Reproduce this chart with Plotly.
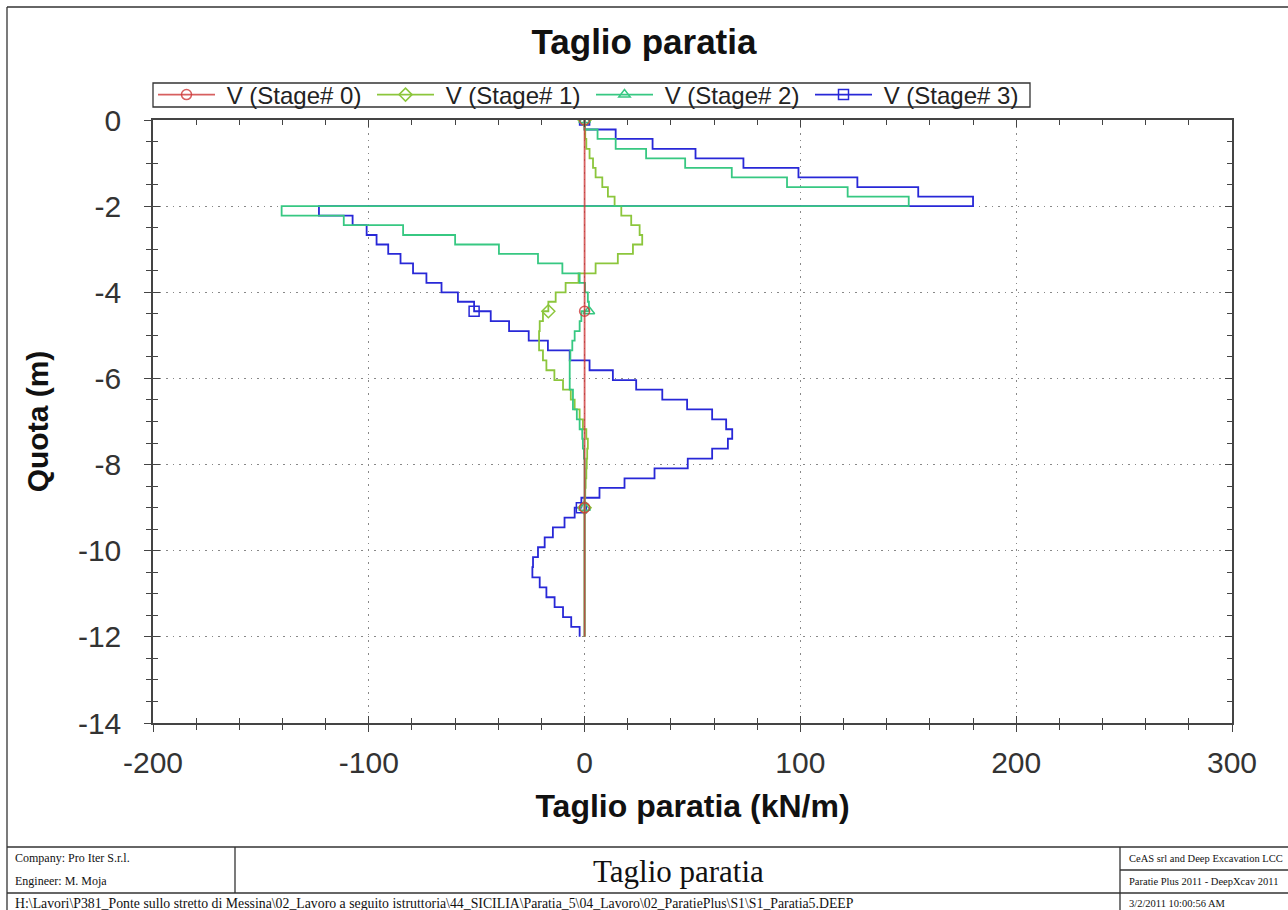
import plotly.graph_objects as go

# ---------------- data ----------------
depth = [0.0, -0.22, -0.44, -0.67, -0.89, -1.11, -1.33, -1.56, -1.78, -2.0,
         -2.22, -2.44, -2.67, -2.89, -3.11, -3.33, -3.56, -3.78, -4.0, -4.22, -4.44,
         -4.67, -4.9, -5.12, -5.35, -5.58, -5.81, -6.04, -6.26, -6.49, -6.72,
         -6.95, -7.18, -7.4, -7.63, -7.86, -8.09, -8.32, -8.54, -8.77, -9.0,
         -9.23, -9.46, -9.69, -9.92, -10.15, -10.38, -10.62, -10.85, -11.08,
         -11.31, -11.54, -11.77, -12.0]

v_stage0 = [0, 0, 0, 0, 0, 0, 0, 0, 0, 0,
            0, 0, 0, 0, 0, 0, 0, 0, 0, 0, 0,
            0, 0, 0, 0, 0, 0, 0, 0, 0, 0,
            0, 0, 0, 0, 0, 0, 0, 0, 0, 0,
            0, 0, 0, 0, 0, 0, 0, 0, 0, 0, 0, 0, 0]

v_stage1 = [0, 0, 0.3, 0.8, 2.3, 3.9, 5.1, 8.2, 10.8, 13.9,
            17.0, 21.6, 25.5, 26.7, 22.4, 15.4, 5.1, -2.8, -8.8, -13.4, -16.8,
            -19.3, -20.8, -21.1, -21.1, -19.3, -17.7, -14.0, -10.0, -6.4, -4.6,
            -2.3, -0.8, 0.8, 1.5, 1.2, 1.0, 0.8, 0.5, 0.3, 0.0,
            0, 0, 0, 0, 0, 0, 0, 0, 0, 0, 0, 0, 0]

v_stage2 = [0, 0, 6.0, 14.4, 28.5, 46.6, 68.2, 93.8, 121.9, 150.2,
            -140.4, -111.6, -84.1, -60.0, -39.7, -21.6, -10.3, -2.3, 0.2, 1.5, 2.0,
            -1.5, -2.3, -4.6, -5.7, -6.6, -6.9, -6.9, -6.9, -5.4, -5.4,
            -3.6, -2.3, -1.1, -0.8, -0.3, 0, 0, 0, 0, 0,
            0, 0, 0, 0, 0, 0, 0, 0, 0, 0, 0, 0, 0]

v_stage3 = [0, 0, 14.4, 31.5, 51.4, 73.6, 99.1, 126.4, 154.6, 180.0,
            -123.1, -107.5, -101.0, -96.4, -91.0, -85.3, -79.5, -73.3, -66.3, -58.7, -51.2,
            -43.5, -35.0, -25.9, -17.0, -6.9, 2.3, 13.1, 23.9, 36.0, 47.5,
            59.1, 65.6, 68.4, 66.4, 59.1, 47.8, 32.4, 18.5, 6.9, -1.5,
            -4.6, -9.3, -14.7, -18.5, -21.6, -23.9, -24.2, -20.8, -17.7, -13.9,
            -10.0, -6.2, -2.3]

series_names = ["V (Stage# 0)", "V (Stage# 1)", "V (Stage# 2)", "V (Stage# 3)"]
series_values = [v_stage0, v_stage1, v_stage2, v_stage3]
marker_index = [0, 20, 40]

x_ticks = [-200, -100, 0, 100, 200, 300]
x_ticktext = ["-200", "-100", "0", "100", "200", "300"]
y_ticks = [0, -2, -4, -6, -8, -10, -12, -14]
y_ticktext = ["0", "-2", "-4", "-6", "-8", "-10", "-12", "-14"]

# ---------------- styles ----------------
colors = ["rgba(205,55,55,0.8)", "rgb(140,198,60)", "rgb(55,200,130)", "rgb(40,40,215)"]
symbols = ["circle-open", "diamond-open", "triangle-up-open", "square-open"]
draw_order = [3, 1, 2, 0]

W, H = 1288, 910
L, R, T, B = 153, 1232, 120, 723   # plot area in pixels


def px(x):
    return (x - L) / (R - L)


def py(y):
    return (B - y) / (B - T)


fig = go.Figure()

for i in draw_order:
    vals = series_values[i]
    fig.add_trace(go.Scatter(
        x=vals, y=depth, mode="lines", line=dict(color=colors[i], width=1.8, shape="hv"),
        showlegend=False, hoverinfo="skip"))
    fig.add_trace(go.Scatter(
        x=[vals[k] for k in marker_index], y=[depth[k] for k in marker_index],
        mode="markers", showlegend=False, hoverinfo="skip",
        marker=dict(symbol=symbols[i], size=10, color=colors[i], line=dict(color=colors[i], width=1.5))))

for i in range(4):
    fig.add_trace(go.Scatter(
        x=[None], y=[None], mode="lines+markers", name="\u00a0" + series_names[i],
        line=dict(color=colors[i], width=1.8),
        marker=dict(symbol=symbols[i], size=10, color=colors[i], line=dict(color=colors[i], width=1.5))))

# helper trace for outside tick stubs
fig.add_trace(go.Scatter(x=[None], y=[None], xaxis="x2", yaxis="y2", showlegend=False, hoverinfo="skip"))

sans = "Liberation Sans, Arial, sans-serif"
tickfont = dict(family=sans, size=30, color="#333")
axcol = "#444"
griddash = "1.5px,5px"

fig.update_layout(
    width=W, height=H,
    margin=dict(l=L, r=W - R, t=T, b=H - B, pad=0),
    paper_bgcolor="white", plot_bgcolor="white",
    title=dict(text="<b>Taglio paratia</b>", x=0.5, xanchor="center", y=1 - 42 / H, yanchor="middle",
               font=dict(family=sans, size=35, color="#111")),
    xaxis=dict(range=[-200, 300], tickvals=x_ticks, ticktext=x_ticktext, ticks="inside", ticklen=7,
               tickwidth=1.2, tickcolor=axcol, mirror="ticks", showline=True, linecolor=axcol,
               linewidth=1.5, showgrid=True, gridcolor="#888", griddash=griddash, gridwidth=1.2,
               zeroline=False,
               minor=dict(dtick=20, tick0=0, ticks="inside", ticklen=5, tickcolor=axcol, showgrid=False),
               tickfont=tickfont, ticklabelstandoff=12,
               title=dict(text="<b>Taglio paratia (kN/m)</b>", standoff=17,
                          font=dict(family=sans, size=32, color="#111"))),
    yaxis=dict(range=[-14, 0], tickvals=y_ticks, ticktext=y_ticktext, ticks="inside", ticklen=7,
               tickwidth=1.2, tickcolor=axcol, mirror="ticks", showline=True, linecolor=axcol,
               linewidth=1.5, showgrid=True, gridcolor="#888", griddash=griddash, gridwidth=1.2,
               zeroline=False,
               minor=dict(dtick=0.5, tick0=0, ticks="inside", ticklen=5, tickcolor=axcol, showgrid=False),
               tickfont=tickfont, ticklabelstandoff=24,
               title=dict(text="<b>Quota (m)</b>", standoff=20,
                          font=dict(family=sans, size=30, color="#111"))),
    xaxis2=dict(range=[-200, 300], overlaying="x", anchor="y2", side="bottom", tickvals=x_ticks,
                ticks="outside", ticklen=8, tickcolor=axcol, tickwidth=1.2, showticklabels=False,
                showgrid=False, zeroline=False, showline=False,
                minor=dict(dtick=20, tick0=0, ticks="outside", ticklen=6, tickcolor=axcol, showgrid=False)),
    yaxis2=dict(range=[-14, 0], overlaying="y", anchor="x2", side="left", tickvals=y_ticks,
                ticks="outside", ticklen=8, tickcolor=axcol, tickwidth=1.2, showticklabels=False,
                showgrid=False, zeroline=False, showline=False,
                minor=dict(dtick=0.5, tick0=0, ticks="outside", ticklen=6, tickcolor=axcol, showgrid=False)),
    legend=dict(orientation="h", x=0, xanchor="left", y=py(95), yanchor="middle",
                borderwidth=0, bgcolor="rgba(0,0,0,0)",
                font=dict(family=sans, size=24, color="#222"),
                itemwidth=57, entrywidth=147, entrywidthmode="pixels", tracegroupgap=0),
)

# ---------------- page frame, legend box and footer block ----------------
line_col = "#333"
shapes = [
    dict(type="line", x0=px(7), x1=px(1300), y0=py(7), y1=py(7)),
    dict(type="line", x0=px(7), x1=px(7), y0=py(7), y1=py(920)),
    dict(type="line", x0=px(7), x1=px(1300), y0=py(847), y1=py(847)),
    dict(type="line", x0=px(7), x1=px(1300), y0=py(893), y1=py(893)),
    dict(type="line", x0=px(1120), x1=px(1300), y0=py(870), y1=py(870)),
    dict(type="line", x0=px(235), x1=px(235), y0=py(847), y1=py(893)),
    dict(type="line", x0=px(1120), x1=px(1120), y0=py(847), y1=py(920)),
    dict(type="rect", x0=px(153), x1=px(1030), y0=py(107), y1=py(83)),
]
for s in shapes:
    s.update(xref="paper", yref="paper", line=dict(color=line_col, width=1.3), layer="above")
fig.update_layout(shapes=shapes)

serif = "Liberation Serif, Times New Roman, serif"
footer = [
    ("Company: Pro Iter S.r.l.", 13, 858, 12, "left"),
    ("Engineer: M. Moja", 13, 881, 12, "left"),
    ("H:\\Lavori\\P381_Ponte sullo stretto di Messina\\02_Lavoro a seguito istruttoria\\44_SICILIA\\Paratia_5\\04_Lavoro\\02_ParatiePlus\\S1\\S1_Paratia5.DEEP", 13, 903, 13.8, "left"),
    ("Taglio paratia", 678, 871, 31, "center"),
    ("CeAS srl and Deep Excavation LCC", 1127, 858, 10.5, "left"),
    ("Paratie Plus 2011 - DeepXcav 2011", 1127, 881, 10.5, "left"),
    ("3/2/2011 10:00:56 AM", 1127, 903, 10.5, "left"),
]
for text, x, y, size, anchor in footer:
    fig.add_annotation(text=text, x=px(x), y=py(y), xref="paper", yref="paper",
                       xanchor=anchor, yanchor="middle", showarrow=False,
                       font=dict(family=serif, size=size, color="#111"))

fig.write_html("out.html", config={"displayModeBar": False},
               post_script="document.body.style.margin='0';")
